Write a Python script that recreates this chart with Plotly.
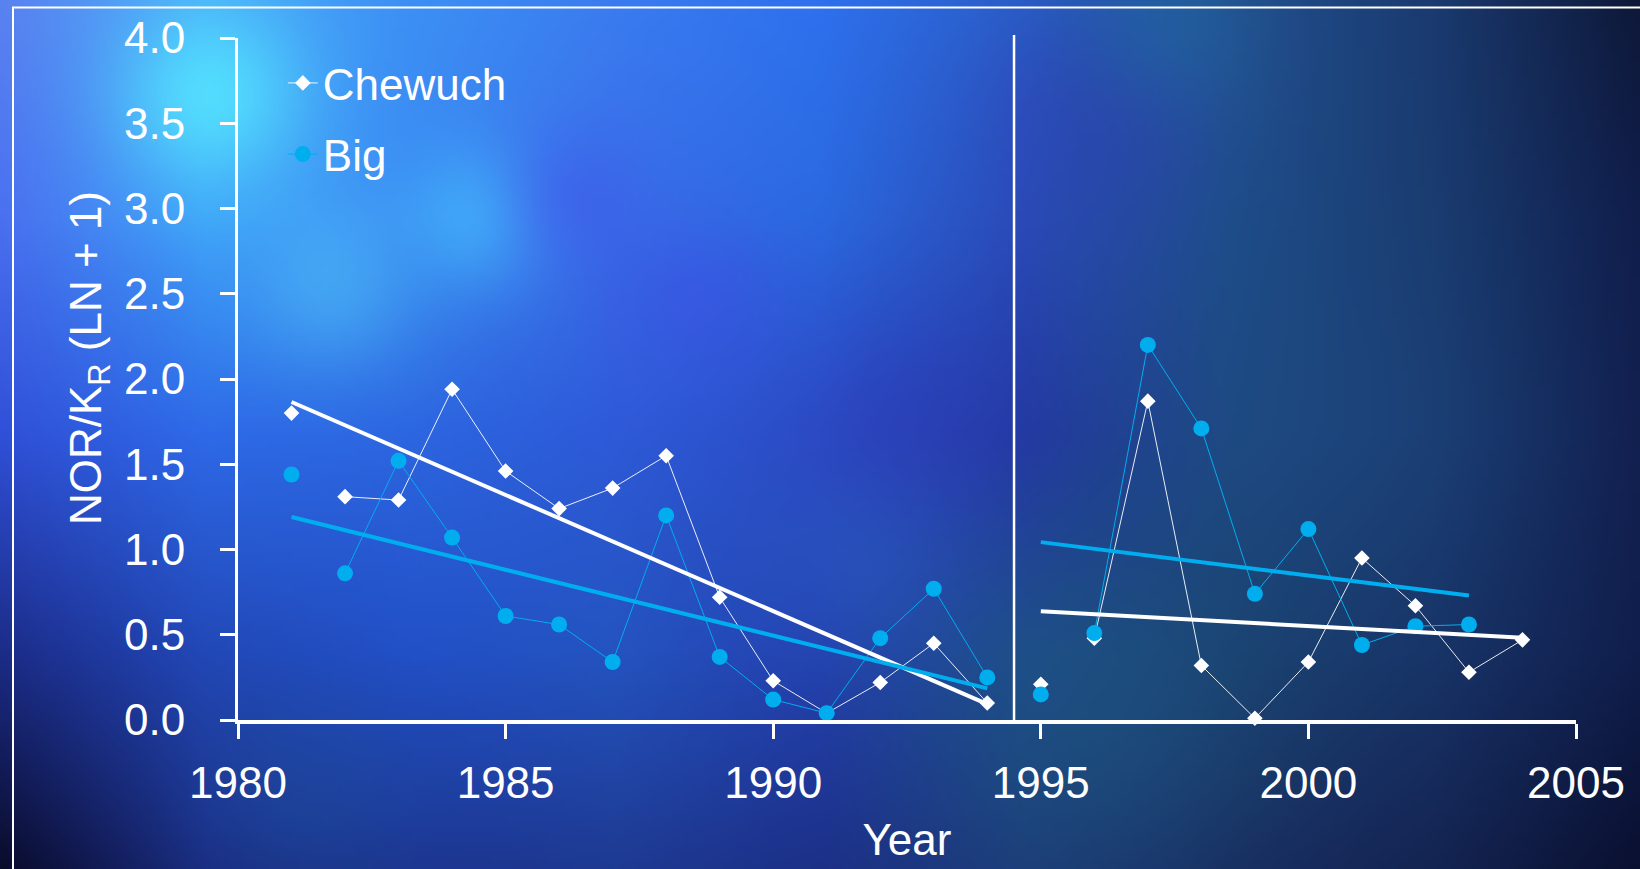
import base64, struct, zlib
import numpy as np
import plotly.graph_objects as go

# ---------------- data ----------------
years = list(range(1981, 2005))
chewuch = [1.80, 1.31, 1.29, 1.94, 1.46, 1.24, 1.36, 1.55, 0.72, 0.23, 0.04, 0.22, 0.45, 0.10,
           0.21, 0.48, 1.87, 0.32, 0.01, 0.34, 0.95, 0.67, 0.28, 0.47]
big_years = list(range(1981, 2004))
big = [1.44, 0.86, 1.52, 1.07, 0.61, 0.56, 0.34, 1.20, 0.37, 0.12, 0.04, 0.48, 0.77, 0.25,
       0.15, 0.51, 2.20, 1.71, 0.74, 1.12, 0.44, 0.55, 0.56]
period1 = (1981, 1994)
period2 = (1995, 2004)
break_after = [1981, 1994, 1995]   # line segments are not drawn after these years
x_ticks = [1980, 1985, 1990, 1995, 2000, 2005]
y_ticks = [0.0, 0.5, 1.0, 1.5, 2.0, 2.5, 3.0, 3.5, 4.0]
separator_year = 1994.5

WHITE = "#FFFFFF"
CYAN = "#00AEEF"
FONT = "Liberation Sans, Arial, sans-serif"
FIG_W, FIG_H = 1640, 869
ML, MR, MT, MB = 238, 64, 38, 149
PW, PH = FIG_W - ML - MR, FIG_H - MT - MB

# ---------------- background texture (decorative) ----------------
def hexrgb(h):
    h = h.lstrip("#")
    return np.array([int(h[i:i + 2], 16) for i in (0, 2, 4)], dtype=float)

grid_hex = [
    ["#5a82f0", "#4aa8f8", "#3c90f4", "#3a7cf0", "#2e70ee", "#2a60c8", "#22508e", "#1a3a70", "#0e1838"],
    ["#4a70f0", "#3ea0f8", "#3a88f2", "#3a6ee8", "#2a6ae0", "#2a4cb8", "#1e4e8a", "#1a3c70", "#101e4c"],
    ["#3050d8", "#2e6ae8", "#2c66e0", "#2e5ad8", "#2a50c8", "#223aa0", "#1e4a84", "#1a3c72", "#122050"],
    ["#1c2c88", "#2248b8", "#2250c8", "#2454c0", "#2440b0", "#1e4a8c", "#1a4070", "#183468", "#101e4c"],
    ["#0a0c2a", "#1a2a80", "#1c3490", "#1e3a92", "#1c3088", "#1c3a78", "#182c60", "#142452", "#0a1030"],
]
grid = np.array([[hexrgb(c) for c in row] for row in grid_hex])
W, H = 328, 174
sx, sy = FIG_W / W, FIG_H / H
xs_px = (np.arange(W) + 0.5) * sx
ys_px = (np.arange(H) + 0.5) * sy
gx = np.linspace(0, FIG_W, grid.shape[1])
gy = np.linspace(0, FIG_H, grid.shape[0])
tmp = np.stack([np.stack([np.interp(xs_px, gx, grid[r, :, c]) for c in range(3)], -1)
                for r in range(grid.shape[0])])            # rows x W x 3
img = np.stack([np.stack([np.interp(ys_px, gy, tmp[:, i, c]) for c in range(3)], -1)
                for i in range(W)], 1)                      # H x W x 3
X, Y = np.meshgrid(xs_px, ys_px)

def blob(cx, cy, r, col, s):
    global img
    w = s * np.exp(-((X - cx) ** 2 + (Y - cy) ** 2) / (2 * r ** 2))
    img = img * (1 - w[..., None]) + hexrgb(col) * w[..., None]

blob(210, 95, 65, "#55e6ff", 0.85)
blob(480, 215, 50, "#44c8ff", 0.6)
blob(330, 285, 60, "#50c4f8", 0.5)
blob(300, 800, 80, "#1e5aa0", 0.3)
blob(560, 200, 50, "#4040e8", 0.35)
blob(700, 300, 60, "#4048e8", 0.35)
blob(1100, 110, 80, "#3036b0", 0.4)
blob(1170, 30, 60, "#1e70a0", 0.4)
blob(900, 440, 90, "#3034b8", 0.4)
blob(1100, 720, 120, "#1e5a80", 0.45)
blob(860, 560, 70, "#2a6ac8", 0.3)
blob(1330, 420, 110, "#1e4a80", 0.35)
img = np.clip(img, 0, 255).astype(np.uint8)

def png_bytes(a):
    h, w, _ = a.shape
    raw = b"".join(b"\x00" + a[i].tobytes() for i in range(h))
    def chunk(t, d):
        c = struct.pack(">I", len(d)) + t + d
        return c + struct.pack(">I", zlib.crc32(t + d) & 0xffffffff)
    return (b"\x89PNG\r\n\x1a\n" + chunk(b"IHDR", struct.pack(">IIBBBBB", w, h, 8, 2, 0, 0, 0)) +
            chunk(b"IDAT", zlib.compress(raw, 9)) + chunk(b"IEND", b""))

bg_src = "data:image/png;base64," + base64.b64encode(png_bytes(img)).decode()

# ---------------- helpers ----------------
def with_breaks(xs, ys):
    ox, oy = [], []
    for x, y in zip(xs, ys):
        ox.append(x); oy.append(y)
        if x in break_after:
            ox.append(x + 0.5); oy.append(None)
    return ox, oy

def fit(xs, ys, lo, hi):
    px = [x for x in xs if lo <= x <= hi]
    py = [y for x, y in zip(xs, ys) if lo <= x <= hi]
    k, b = np.polyfit(px, py, 1)
    x0, x1 = min(px), max(px)
    return [x0, x1], [k * x0 + b, k * x1 + b]

def px_to_paper_x(p):
    return (p - ML) / PW

def px_to_paper_y(p):
    return (FIG_H - MB - p) / PH

fig = go.Figure()

cx, cy = with_breaks(years, chewuch)
fig.add_trace(go.Scatter(x=cx, y=cy, mode="lines+markers", name="Chewuch",
                         line=dict(color="rgba(255,255,255,0.9)", width=1),
                         marker=dict(symbol="diamond", size=12, color=WHITE),
                         connectgaps=False, cliponaxis=False, legendgroup="a"))
bx, by = with_breaks(big_years, big)
fig.add_trace(go.Scatter(x=bx, y=by, mode="lines+markers", name="Big",
                         line=dict(color=CYAN, width=1),
                         marker=dict(symbol="circle", size=16, color=CYAN),
                         connectgaps=False, cliponaxis=False, legendgroup="b"))

for (xs, ys, col) in [(years, chewuch, WHITE), (big_years, big, CYAN)]:
    for lo, hi in (period1, period2):
        tx, ty = fit(xs, ys, lo, hi)
        fig.add_trace(go.Scatter(x=tx, y=ty, mode="lines", showlegend=False,
                                 line=dict(color=col, width=4), hoverinfo="skip"))

fig.add_shape(type="line", xref="x", yref="paper", x0=separator_year, x1=separator_year,
              y0=0, y1=px_to_paper_y(35), line=dict(color=WHITE, width=2.5))
fig.add_shape(type="rect", xref="paper", yref="paper", x0=px_to_paper_x(13), x1=1.3,
              y0=-0.4, y1=px_to_paper_y(7.5), line=dict(color=WHITE, width=2), layer="below")

fig.add_annotation(text="NOR/K<sub>R</sub> (LN + 1)", textangle=-90, showarrow=False,
                   xref="paper", yref="paper", x=px_to_paper_x(89), y=px_to_paper_y(358),
                   xanchor="center", yanchor="middle",
                   font=dict(family=FONT, size=44, color=WHITE))

fig.update_layout(
    width=FIG_W, height=FIG_H,
    margin=dict(l=ML, r=MR, t=MT, b=MB),
    paper_bgcolor="#1a2c7a", plot_bgcolor="rgba(0,0,0,0)",
    font=dict(family=FONT, color=WHITE, size=44),
    images=[dict(source=bg_src, xref="paper", yref="paper", x=px_to_paper_x(0),
                 y=px_to_paper_y(0), sizex=FIG_W / PW, sizey=FIG_H / PH, sizing="stretch",
                 xanchor="left", yanchor="top", layer="below")],
    showlegend=True,
    legend=dict(x=0.0335, y=0.9856, xanchor="left", yanchor="top", bgcolor="rgba(0,0,0,0)",
                font=dict(size=44, color=WHITE), traceorder="grouped", tracegroupgap=11),
    xaxis=dict(range=[1980, 2005], tickvals=x_ticks, ticks="outside", ticklen=15,
               tickwidth=3, tickcolor=WHITE, showline=True, linecolor=WHITE, linewidth=4,
               showgrid=False, zeroline=False, tickfont=dict(size=44, color=WHITE),
               ticklabelstandoff=6,
               title=dict(text="Year", font=dict(size=44, color=WHITE), standoff=19)),
    yaxis=dict(range=[0, 4], tickvals=y_ticks, tickformat=".1f", ticks="outside", ticklen=15,
               tickwidth=3, tickcolor=WHITE, showline=True, linecolor=WHITE, linewidth=3,
               showgrid=False, zeroline=False, tickfont=dict(size=44, color=WHITE),
               ticklabelstandoff=26),
)

fig.write_html("out.html", config={"displayModeBar": False},
               post_script="document.body.style.margin='0';")
